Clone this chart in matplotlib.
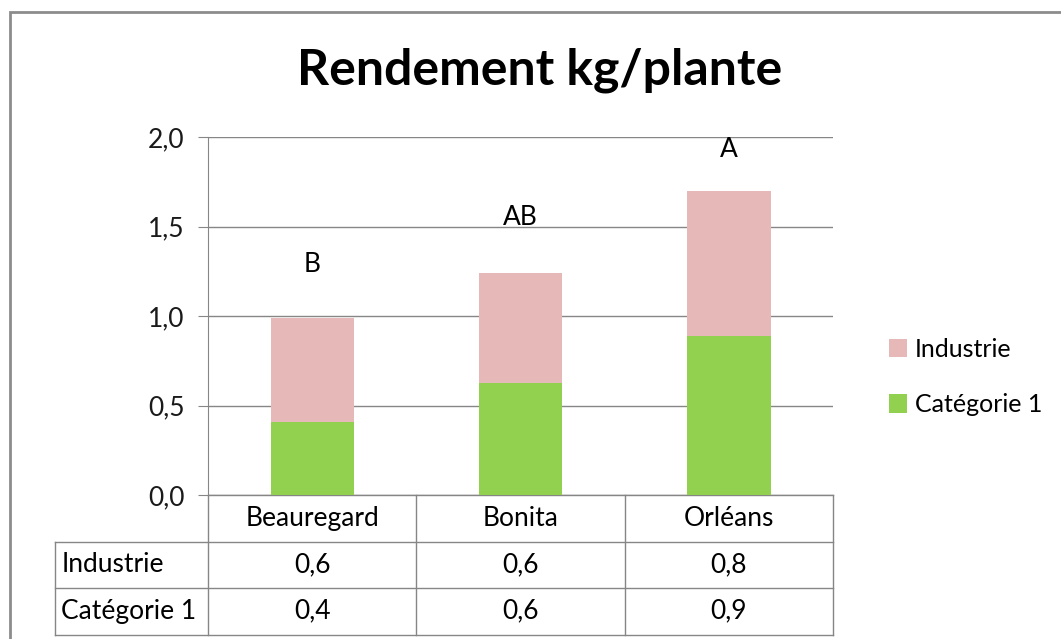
import matplotlib.pyplot as plt
from matplotlib.patches import Rectangle
import matplotlib.transforms as mtransforms

plt.rcParams['font.family'] = ['Lato', 'DejaVu Sans']

categories = ['Beauregard', 'Bonita', 'Orléans']
categorie1 = [0.41, 0.625, 0.89]
industrie = [0.58, 0.615, 0.81]
table_rows = ['Industrie', 'Catégorie 1']
table_industrie = ['0,6', '0,6', '0,8']
table_categorie1 = ['0,4', '0,6', '0,9']
letters = ['B', 'AB', 'A']
letter_y = [1.29, 1.55, 1.93]

green = '#92D050'
pink = '#E6B9B8'
grid_col = '#868686'
fs = 19

fig = plt.figure(figsize=(10.61, 6.39), dpi=100)
ax = fig.add_axes([208 / 1061, 1 - 495 / 639, 625 / 1061, 358 / 639])

# outer chart frame
fig.patches.append(Rectangle((10 / 1061, -0.1), 1.2, 1 - 12 / 639 + 0.1,
                             transform=fig.transFigure, fill=False,
                             edgecolor='#8c8c8c', linewidth=2))

x = range(len(categories))
ax.bar(x, categorie1, width=0.4, color=green, label='Catégorie 1', zorder=3)
ax.bar(x, industrie, width=0.4, bottom=categorie1, color=pink, label='Industrie', zorder=3)

for i, t in enumerate(letters):
    ax.text(i, letter_y[i], t, ha='center', va='center', fontsize=fs)

ax.set_xlim(-0.5, 2.5)
ax.set_ylim(0, 2.0)
ax.set_yticks([0, 0.5, 1.0, 1.5, 2.0])
ax.set_yticklabels(['0,0', '0,5', '1,0', '1,5', '2,0'], fontsize=fs)
ax.yaxis.grid(True, color=grid_col, linewidth=1, zorder=0)
ax.set_xticks([])
for s in ['top', 'right', 'bottom']:
    ax.spines[s].set_visible(False)
ax.spines['left'].set_color(grid_col)
ax.tick_params(axis='y', length=7, color=grid_col, pad=10, labelcolor='#1a1a1a')

# data table below the axes
tr = mtransforms.blended_transform_factory(ax.transData, ax.transAxes)
row_h = 46.5 / 358
left = -0.5 - (208 - 55) * 3 / 625
lc = grid_col
lw = 1
# horizontal lines
ax.plot([-0.5, 2.5], [0, 0], color=lc, lw=lw, transform=tr, clip_on=False)
for k in (1, 2, 3):
    ax.plot([left, 2.5], [-k * row_h] * 2, color=lc, lw=lw, transform=tr, clip_on=False)
# vertical lines
for xb in (-0.5, 0.5, 1.5, 2.5):
    ax.plot([xb, xb], [0, -3 * row_h], color=lc, lw=lw, transform=tr, clip_on=False)
ax.plot([left, left], [-row_h, -3 * row_h], color=lc, lw=lw, transform=tr, clip_on=False)

for i, c in enumerate(categories):
    ax.text(i, -0.5 * row_h, c, ha='center', va='center', fontsize=fs, transform=tr)
    ax.text(i, -1.5 * row_h, table_industrie[i], ha='center', va='center', fontsize=fs, transform=tr)
    ax.text(i, -2.5 * row_h, table_categorie1[i], ha='center', va='center', fontsize=fs, transform=tr)
for k, r in enumerate(table_rows):
    ax.text(left + 0.03, -(k + 1.5) * row_h, r, ha='left', va='center', fontsize=fs, transform=tr)

fig.text(540 / 1061, 1 - 70 / 639, 'Rendement kg/plante', ha='center', va='center',
         fontsize=36, fontweight='bold')

handles, labels = ax.get_legend_handles_labels()
fig.legend(handles[::-1], labels[::-1], loc='center left', bbox_to_anchor=(866 / 1061, 1 - 377 / 639),
           frameon=False, fontsize=18, handlelength=0.75, handleheight=0.75,
           handletextpad=0.3, labelspacing=1.3)

fig.savefig('out.png', dpi=100)
